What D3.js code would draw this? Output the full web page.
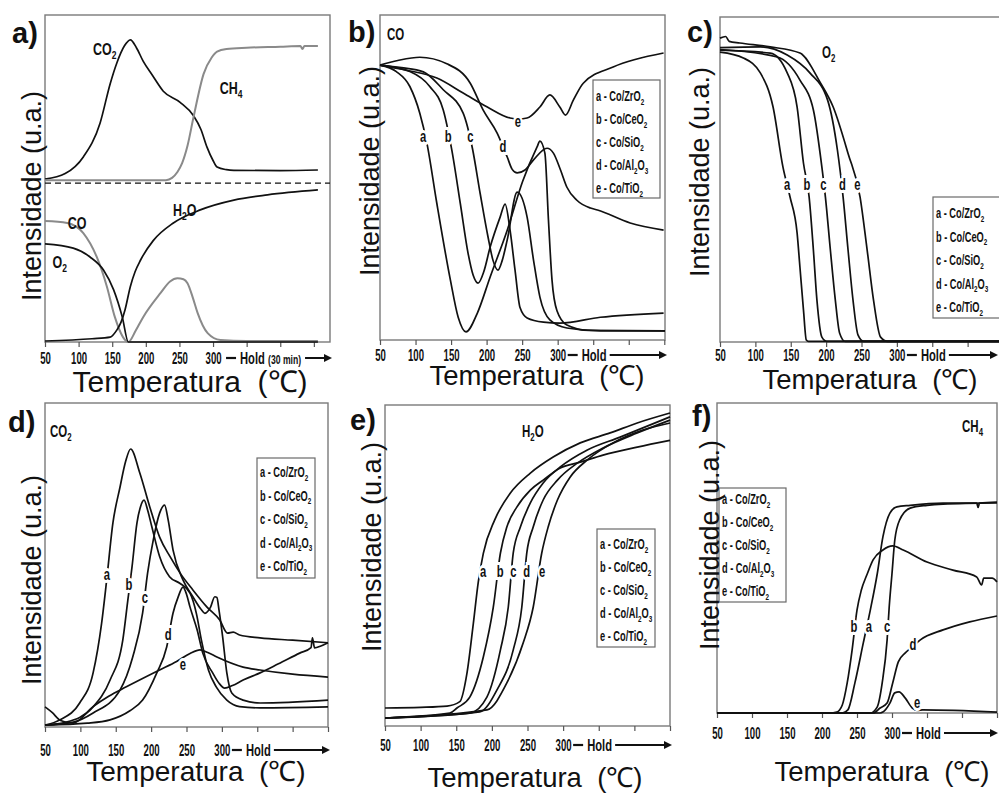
<!DOCTYPE html>
<html>
<head>
<meta charset="utf-8">
<script src="https://cdn.jsdelivr.net/npm/d3@7"></script>
<style>
  body { margin: 0; background: #fff; }
  svg { display: block; }
</style>
</head>
<body>
<div id="fig"></div>
<script>
// ---- data (temperature in C, intensity in arbitrary units 0-100) ----
const xTicks = [50, 100, 150, 200, 250, 300];
const xHoldTicks = [350, 400, 450];
const curveLetters = ['a', 'b', 'c', 'd', 'e'];
const catalysts = ['Co/ZrO2', 'Co/CeO2', 'Co/SiO2', 'Co/Al2O3', 'Co/TiO2'];

// a) all gases for one run
const aCO2 = [[50,49.8],[80,51.5],[107,56.6],[132,67],[147,79],[157,85.4],[168,90.5],[177,92.4],[186,90],[196,85.9],[210,81.5],[226,76.7],[251,73.3],[271,69.2],[282,65],[291,59.6],[300,55.5],[306,53.5],[320,52.7],[331,52.5],[400,52.4],[456,52.6]];
const aCH4 = [[50,49.5],[230,49.5],[239,50.2],[247,52],[254,54.7],[262,60],[271,68.8],[286,82],[298,87],[306,88.8],[320,89.6],[350,90],[400,90.3],[430,90.5],[433,89.6],[436,90.5],[456,90.5]];
const aH2O = [[50,0.3],[120,1],[147,1.5],[157,3.7],[163,6],[169,9.8],[177,17],[184,21.5],[192,25],[211,31],[241,36.4],[281,40.4],[331,43.4],[381,45],[456,46.5]];
const aCO = [[50,37],[83,36.4],[107,33.3],[127,26],[142,17],[154,7.6],[166,1.5],[174,0],[185,3.5],[196,7.6],[222,15],[236,18.5],[247,19.5],[256,19.2],[262,18],[270,13.5],[277,8.9],[292,2.7],[311,0.6],[350,0.3],[456,0.3]];
const aO2 = [[50,30],[92,28.7],[117,26],[137,22],[152,16],[165,7.6],[174,0],[456,0]];

// b) CO
const coZr = [[50,84.6],[73,82.6],[92,78],[106,69.8],[116,60.6],[130,42],[149,18.5],[160,7],[171,2.5],[187,8.3],[205,19.4],[229,33.8],[251,49],[271,59.4],[275,61.2],[282,57.5],[287,37],[292,18.5],[299,9],[313,4.6],[342,3],[451,2.8]];
const coCe = [[50,84.6],[92,82.6],[120,78],[139,70.8],[151,58.5],[163,42],[174,26.6],[181,20],[188,17.5],[196,21],[205,28.6],[219,37.8],[226,41.8],[233,33.8],[240,21.5],[247,10],[257,6.8],[280,5.5],[303,5.2],[360,7],[449,8.3]];
const coSi = [[50,84.6],[80,83.8],[111,82.5],[139,77],[167,69.8],[180,59],[191,45],[202,31.7],[209,24.5],[216,21.5],[222,24.5],[229,30.8],[243,45.5],[257,37.8],[266,24.6],[275,13.2],[289,6.2],[313,3.7],[360,2.8],[451,2.8]];
const coAl = [[50,84.6],[75,86],[106,87],[144,85],[177,79],[195,70.8],[215,63.6],[229,56.3],[236,52.5],[243,51.4],[254,52.3],[266,55.4],[285,59],[294,57.5],[304,52.3],[313,47],[327,43],[346,40.6],[356,40],[402,36],[449,33.8]];
const coTi = [[50,84.6],[88,83],[130,80.6],[167,76],[201,71.7],[233,68.3],[245,68],[257,68.3],[275,71.7],[289,75.4],[303,71.7],[311,69.2],[322,73.8],[336,79],[378,84],[449,88.3]];

// c) O2
const o2Zr = [[50,89.2],[83,87.4],[107,82.8],[125,72.3],[139,53.8],[149,44.6],[159,33.5],[163,23],[168,9.8],[172,0.6],[175,0.2],[450,0.2]];
const o2Ce = [[50,89.8],[121,88.9],[145,82.8],[159,72.3],[168,55],[176,44.6],[182,28.3],[187,12.9],[194,1.5],[201,0.2],[450,0.2]];
const o2Si = [[50,90],[131,87.7],[163,80.6],[182,71.4],[194,53.8],[199,44.6],[206,28.3],[213,12.9],[219,2.8],[227,0.2],[450,0.2]];
const o2Al = [[50,90.6],[107,90.8],[145,88.3],[177,82.8],[202,74.5],[216,59],[224,44.6],[231,28.3],[238,12.9],[245,2.2],[253,0.2],[450,0.2]];
const o2Ti = [[50,93.5],[58,94],[63,92.5],[78,92],[121,90.8],[163,88.9],[192,79.7],[210,72.3],[231,58],[248,44.6],[258,28.3],[267,12.9],[277,1.5],[287,0.2],[450,0.2]];

// d) CO2
const co2Zr = [[50,0.6],[71,2.2],[99,7.4],[118,16.7],[130,32],[137,45],[146,63],[156,74],[164,82],[171,85.8],[184,78.4],[198,68],[212,58.6],[227,52.5],[241,47.5],[259,42.3],[279,37],[297,33],[308,29],[316,29.3],[325,28.4],[354,27.5],[400,26.8],[450,26]];
const co2Ce = [[50,0.6],[80,1.5],[118,6.2],[142,14.5],[160,26.9],[167,39],[173,49.4],[180,63],[185,68],[190,70],[195,67],[201,61.8],[212,52.6],[226,46.4],[241,44.3],[255,41.3],[264,35],[271,26.9],[281,17.6],[292,12.4],[307,8.3],[325,6.3],[354,5.9],[450,6.2]];
const co2Si = [[50,0.6],[90,1.5],[118,4.3],[156,11.4],[174,21.6],[188,35.2],[195,47.5],[203,57.7],[212,66],[219,68.5],[224,64],[231,54.6],[245,45.4],[259,40.2],[270,36.5],[276,35.1],[284,37],[290,40.2],[293,40],[296,36],[301,28],[307,16.7],[314,10.5],[330,8.3],[354,7.4],[450,8.3]];
const co2Al = [[50,0.6],[110,1.2],[142,2.2],[170,5],[188,8.3],[208,16.7],[222,24.7],[231,35.2],[238,40],[245,43.2],[250,41],[255,37],[265,30],[273,22.8],[287,16.7],[296,13.5],[304,12],[315,12.8],[330,14.5],[354,16.7],[380,19.5],[410,22.8],[426,24.5],[428,27.5],[431,24.4],[440,25],[450,26]];
const co2Ti = [[50,6.2],[60,4.5],[72,2],[90,1.2],[118,6.3],[140,9.5],[165,12.4],[212,17.6],[236,20.2],[255,22.7],[269,23.8],[280,23],[293,21.6],[330,18.5],[354,17.6],[400,16.3],[450,15.4]];

// e) H2O
const h2oZr = [[50,5.6],[100,5.8],[137,6.2],[155,7.6],[165,16.4],[174,32],[181,45],[188,53.8],[204,64.2],[226,72.6],[254,78.8],[286,83.8],[324,88.2],[366,91.3],[404,94.4],[450,97.5]];
const h2oCe = [[50,2.5],[141,4],[151,5.6],[169,9],[188,21.5],[202,37],[212,53.9],[221,62],[235,68.2],[254,73.5],[272,76.6],[296,80.4],[324,82.2],[356,84.4],[404,86.9],[450,89]];
const h2oSi = [[50,2.5],[169,4],[193,9],[212,23.7],[223,37],[230,53.9],[240,62],[254,69.5],[272,75.7],[296,80.7],[334,86],[380,90],[450,96.3]];
const h2oAl = [[50,2.5],[183,4.4],[207,11.2],[230,23.7],[242,37],[249,53.9],[258,62],[272,70.4],[292,76.6],[320,81.9],[356,86.6],[404,91.3],[450,95.3]];
const h2oTi = [[50,2.5],[193,5],[221,13.4],[244,25.9],[258,37],[270,53.9],[279,62],[292,70.4],[310,77.6],[334,82.9],[370,88.2],[412,92.2],[450,94.4]];

// f) CH4
const ch4Zr = [[50,0],[229,0],[237,1],[247,9.7],[259,22.6],[269,33.2],[279,45],[287,56.8],[297,64.5],[307,66.5],[326,67],[373,67.7],[421,67.7],[423,66.3],[425,67.7],[450,68]];
const ch4Ce = [[50,0],[211,0],[221,0.3],[229,2.6],[236,9.7],[243,20.3],[250,33.2],[256,39.5],[264,44.5],[273,49.4],[287,52.6],[301,53.9],[316,52.6],[350,48.7],[387,46.1],[421,43.9],[428,41.3],[431,43.5],[443,43.5],[450,42.3]];
const ch4Si = [[50,0],[269,0],[279,2],[286,9.7],[293,23.5],[296,34.2],[300,45],[304,55.8],[311,62.3],[326,66.1],[350,67],[373,67.4],[450,67.8]];
const ch4Al = [[50,0],[273,0],[283,1.6],[293,3.2],[301,9.7],[309,16.5],[319,19.4],[330,21.5],[340,23.5],[373,26.8],[411,29.4],[450,31.3]];
const ch4Ti = [[50,0],[283,0],[287,0.3],[297,3.2],[304,6.5],[310,6.8],[319,4.8],[329,1.6],[337,0.8],[344,1],[450,0.3]];

// ---- layout ----
const W = 999, H = 796;
const FONT = '"Liberation Sans", Arial, Helvetica, sans-serif';
const GRAY = '#8a8a8a';

const panels = [
  { letter: 'a)', letterPos: [12, 43], box: [45, 15, 330, 342], xMax: 474,
    tickDy: 22, holdNote: true, yTitle: [32, 196], xTitle: [190, 392, 30],
    series: [{ d: aCO2 }, { d: aCH4, c: GRAY }, { d: aCO, c: GRAY }, { d: aO2 }, { d: aH2O }],
    gasLabels: [['CO2', 139, 87.8], ['CH4', 327, 75.8], ['H2O', 258, 38.5], ['CO', 97.6, 34.6], ['O2', 72, 22.6]],
    dashedAt: 48.6 },
  { letter: 'b)', letterPos: [348, 42], box: [380, 15, 665, 340], xMax: 451,
    tickDy: 21, yTitle: [370, 171], xTitle: [537, 385, 27.5], gas: ['CO', 387, 40],
    series: [coZr, coCe, coSi, coAl, coTi].map(d => ({ d })),
    curveLabelPos: [[110.6, 61], [146, 61], [177, 61], [223, 58], [244, 65.5]],
    legend: { x: 593, y: 80, w: 67, h: 118, first: 21, step: 23 } },
  { letter: 'c)', letterPos: [687, 42], box: [720, 17, 1003, 342], xMax: 450,
    tickDy: 19, yTitle: [700, 172], xTitle: [870, 389, 27.5], gas: ['O2', 822, 58],
    series: [o2Zr, o2Ce, o2Si, o2Al, o2Ti].map(d => ({ d })),
    curveLabelPos: [[145, 46.8], [173, 46.8], [196, 46.8], [223, 46.8], [244, 46.8]],
    legend: { x: 933, y: 197, w: 75, h: 121, first: 21, step: 23.5 } },
  { letter: 'd)', letterPos: [8, 432], box: [45, 403, 328, 727], xMax: 450,
    tickDy: 29, yTitle: [32, 580], xTitle: [196, 781, 28], gas: ['CO2', 50, 437],
    series: [co2Zr, co2Ce, co2Si, co2Al, co2Ti].map(d => ({ d })),
    curveLabelPos: [[137.6, 45.4], [168.6, 42.3], [191, 38.3], [224, 26.9], [245, 17.6]],
    legend: { x: 257, y: 458, w: 58, h: 120, first: 19, step: 23.5 } },
  { letter: 'e)', letterPos: [350, 430], box: [385, 405, 670, 726], xMax: 450,
    tickDy: 25, yTitle: [372, 547], xTitle: [535, 787, 27.5], gas: ['H2O', 522, 437],
    series: [h2oZr, h2oCe, h2oSi, h2oAl, h2oTi].map(d => ({ d })),
    curveLabelPos: [[187.6, 46.4], [211.5, 46.4], [230, 46.4], [249, 46.4], [270.5, 46.4]],
    legend: { x: 597, y: 529, w: 58, h: 118, first: 20, step: 23 } },
  { letter: 'f)', letterPos: [692, 426], box: [717, 403, 997, 713], xMax: 450,
    tickDy: 26, yTitle: [710, 545], xTitle: [882, 781, 27.5], gas: ['CH4', 962, 432],
    series: [ch4Zr, ch4Ce, ch4Si, ch4Al, ch4Ti].map(d => ({ d })),
    curveLabelPos: [[267, 26], [245.7, 26], [293, 26], [330, 20.3], [336, 1.5]],
    legend: { x: 719, y: 488, w: 67, h: 114, first: 16, step: 23 } }
];

const svg = d3.select('#fig').append('svg')
  .attr('width', W).attr('height', H)
  .style('background', '#fff');

// text with digits drawn as subscripts (CO2, Al2O3 ...)
function addFormula(t, str, size) {
  let down = false;
  str.split(/(\d+)/).filter(s => s.length).forEach(s => {
    const ts = t.append('tspan').text(s);
    if (/^\d+$/.test(s)) {
      ts.attr('font-size', size * 0.68).attr('dy', size * 0.25);
      down = true;
    } else if (down) {
      ts.attr('dy', -size * 0.25);
      down = false;
    }
  });
}

// condensed text, like the narrow font in the figure
function narrow(parent, x, y, str, o) {
  const g = parent.append('g')
    .attr('transform', `translate(${x},${y}) scale(${o.sx || 0.7},1)`);
  const make = () => {
    const t = g.append('text')
      .attr('font-family', FONT)
      .attr('font-size', o.size)
      .attr('font-weight', o.weight || 'bold')
      .attr('text-anchor', o.anchor || 'start')
      .attr('fill', '#111');
    if (o.plain) t.text(str); else addFormula(t, str, o.size);
    return t;
  };
  if (o.halo) make().attr('fill', '#fff').attr('stroke', '#fff').attr('stroke-width', 6);
  return make();
}

panels.forEach(p => {
  const [x0, y0, x1, y1] = p.box;
  const x = d3.scaleLinear().domain([50, p.xMax]).range([x0, x1]);
  const y = d3.scaleLinear().domain([0, 100]).range([y1, y0]);
  const g = svg.append('g');

  // frame
  g.append('rect')
    .attr('x', x0).attr('y', y0)
    .attr('width', x1 - x0).attr('height', y1 - y0)
    .attr('fill', 'none').attr('stroke', '#7a7a7a').attr('stroke-width', 1.4);

  // x axis
  const axis = d3.axisBottom(x)
    .tickValues(xTicks.concat(xHoldTicks))
    .tickSize(5)
    .tickFormat(d => d <= 300 ? d : '');
  const ax = g.append('g').attr('transform', `translate(0,${y1})`).call(axis);
  ax.select('.domain').remove();
  ax.selectAll('line').attr('stroke', '#555').attr('stroke-width', 1.2);
  ax.selectAll('text')
    .attr('y', p.tickDy).attr('dy', 0)
    .attr('transform', 'scale(0.6,1)')
    .attr('font-family', FONT).attr('font-size', 16).attr('font-weight', 'bold')
    .attr('fill', '#111');

  // "— Hold ——>" note after 300
  const hx = x(300), hy = y1 + p.tickDy;
  const off = p.holdNote ? 3 : 0;
  g.append('line').attr('x1', hx + 10 + off).attr('x2', hx + 20 + off)
    .attr('y1', hy - 6).attr('y2', hy - 6).attr('stroke', '#111').attr('stroke-width', 2.2);
  narrow(g, hx + 24 + off, hy, 'Hold', { size: 16, sx: 0.7, plain: true });
  let arrowStart = hx + 52;
  if (p.holdNote) {
    narrow(g, hx + 55, hy, '(30 min)', { size: 12, sx: 0.72, plain: true });
    arrowStart = hx + 92;
  }
  const arrowEnd = Math.min(x1 + 2, W - 1);
  g.append('line').attr('x1', arrowStart).attr('x2', arrowEnd - 6)
    .attr('y1', hy - 6).attr('y2', hy - 6).attr('stroke', '#111').attr('stroke-width', 2);
  g.append('path')
    .attr('d', `M${arrowEnd},${hy - 6} L${arrowEnd - 8},${hy - 10} L${arrowEnd - 8},${hy - 2} Z`)
    .attr('fill', '#111');

  // dashed separator (panel a)
  if (p.dashedAt !== undefined) {
    g.append('line').attr('x1', x0).attr('x2', x1)
      .attr('y1', y(p.dashedAt)).attr('y2', y(p.dashedAt))
      .attr('stroke', '#111').attr('stroke-width', 1.4).attr('stroke-dasharray', '6,4');
  }

  // curves
  const line = d3.line()
    .x(d => x(d[0])).y(d => y(d[1]))
    .curve(d3.curveMonotoneX);
  p.series.forEach(s => {
    g.append('path')
      .attr('d', line(s.d))
      .attr('fill', 'none')
      .attr('stroke', s.c || '#111')
      .attr('stroke-width', s.c ? 2 : 1.7)
      .attr('stroke-linejoin', 'round');
  });

  // curve letters a-e
  if (p.curveLabelPos) {
    p.curveLabelPos.forEach((pos, i) => {
      narrow(g, x(pos[0]), y(pos[1]), curveLetters[i],
        { size: 17, sx: 0.66, anchor: 'middle', halo: true, plain: true });
    });
  }

  // gas labels inside panel a
  if (p.gasLabels) {
    p.gasLabels.forEach(([name, gx, gy]) => {
      narrow(g, x(gx), y(gy), name, { size: 16, sx: 0.78, anchor: 'middle' });
    });
  }
  if (p.gas) narrow(g, p.gas[1], p.gas[2], p.gas[0], { size: 16, sx: 0.72 });

  // legend box
  if (p.legend) {
    const L = p.legend;
    g.append('rect').attr('x', L.x).attr('y', L.y).attr('width', L.w).attr('height', L.h)
      .attr('fill', '#fff').attr('stroke', '#6a6a6a').attr('stroke-width', 1.2);
    catalysts.forEach((c, i) => {
      narrow(g, L.x + 3, L.y + L.first + i * L.step, curveLetters[i] + ' - ' + c,
        { size: 14, sx: 0.66 });
    });
  }

  // panel letter
  svg.append('text')
    .attr('x', p.letterPos[0]).attr('y', p.letterPos[1])
    .attr('font-family', FONT).attr('font-size', 29).attr('font-weight', 'bold')
    .attr('fill', '#111').text(p.letter);

  // axis titles
  svg.append('text')
    .attr('transform', `translate(${p.yTitle[0] + 9},${p.yTitle[1]}) rotate(-90)`)
    .attr('text-anchor', 'middle')
    .attr('font-family', FONT).attr('font-size', 27).attr('fill', '#111')
    .text('Intensidade (u.a.)');
  svg.append('text')
    .attr('x', p.xTitle[0]).attr('y', p.xTitle[1])
    .attr('text-anchor', 'middle')
    .attr('font-family', FONT).attr('font-size', p.xTitle[2]).attr('fill', '#111')
    .style('white-space', 'pre')
    .text('Temperatura  (\u2103)');
});
</script>
</body>
</html>
